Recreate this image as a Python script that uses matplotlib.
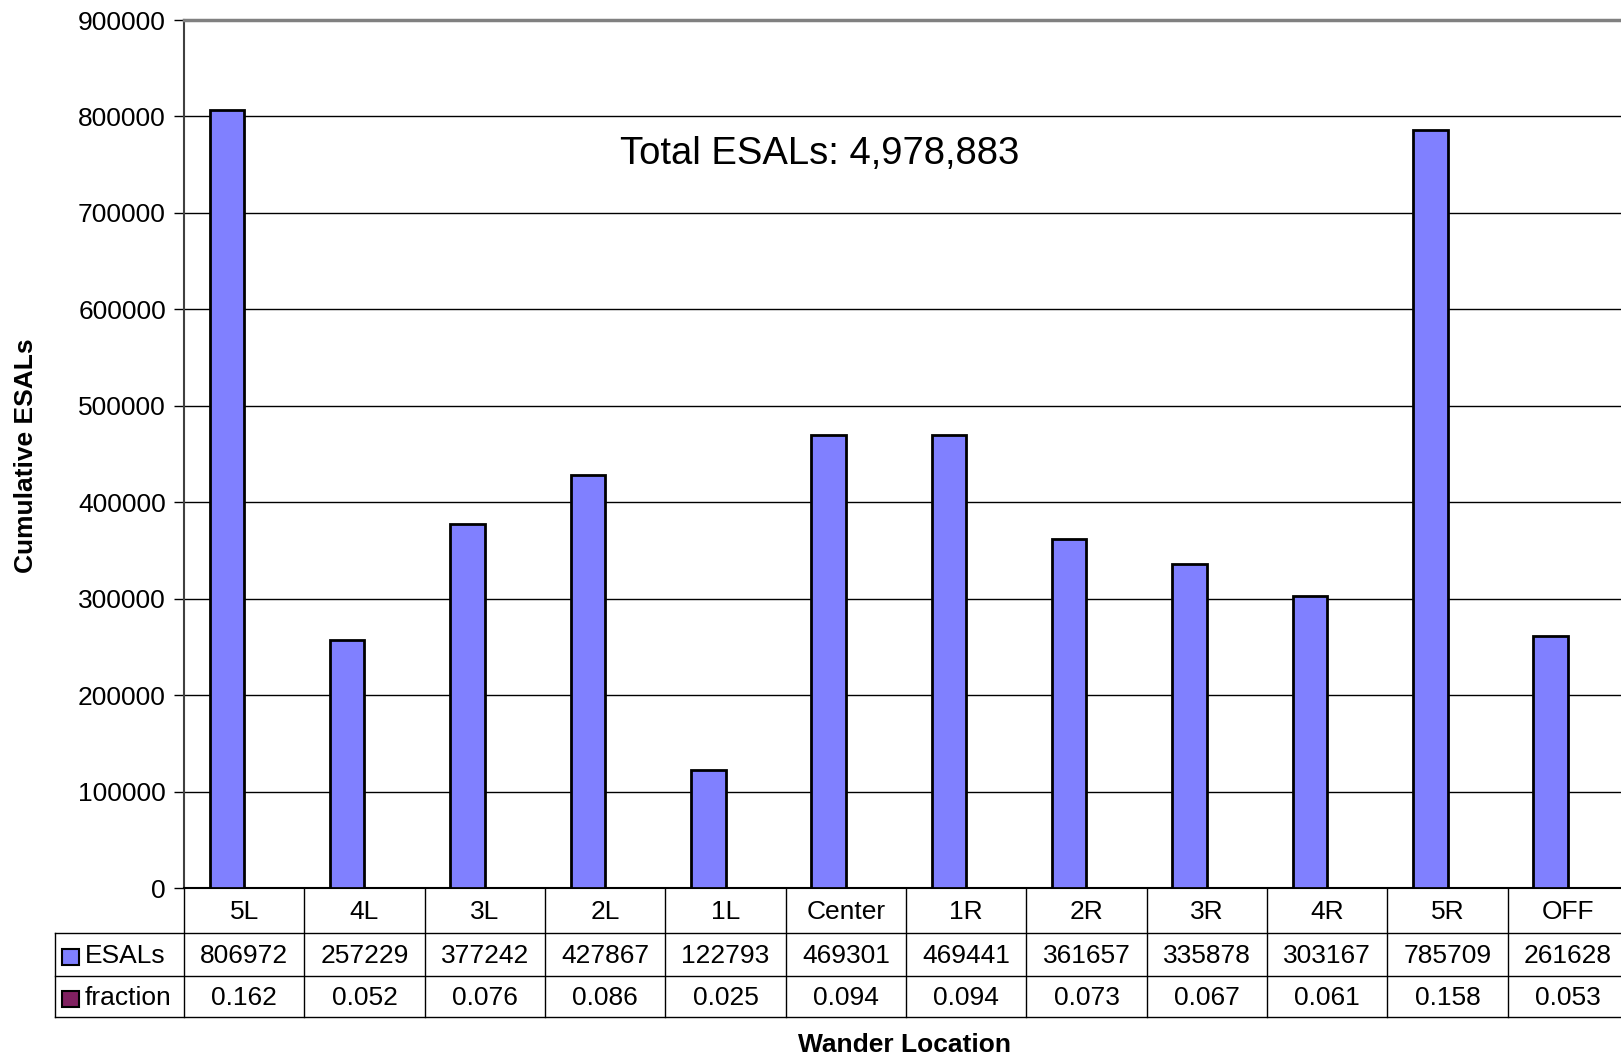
import matplotlib

matplotlib.use("Agg")
import matplotlib.pyplot as plt
from matplotlib.patches import Rectangle
from matplotlib.transforms import blended_transform_factory

plt.rcParams["font.family"] = ["Liberation Sans", "DejaVu Sans"]

locations = ["5L", "4L", "3L", "2L", "1L", "Center", "1R", "2R", "3R", "4R", "5R", "OFF"]
esals = [806972, 257229, 377242, 427867, 122793, 469301, 469441, 361657, 335878,
         303167, 785709, 261628]
fraction = [0.162, 0.052, 0.076, 0.086, 0.025, 0.094, 0.094, 0.073, 0.067, 0.061,
            0.158, 0.053]
y_ticks = list(range(0, 900001, 100000))

ESAL_COLOR = "#8080FF"
FRAC_COLOR = "#802060"
FS = 19

W, H = 1621, 1059
fig = plt.figure(figsize=(W / 100, H / 100), dpi=100)


def fx(px):
    return px / W


def fy(py):
    return 1 - py / H


# plot area runs slightly past the right edge, as in the original export
ax_left, ax_right, ax_top, ax_bot = 184, 1628, 20, 888
ax = fig.add_axes([fx(ax_left), fy(ax_bot), fx(ax_right - ax_left), fy(ax_top) - fy(ax_bot)])

n = len(locations)
xs = list(range(n))
bw = 1 / 3.5  # Excel gap width 150 %
ax.bar([x - bw / 2 for x in xs], esals, width=bw, color=ESAL_COLOR,
       edgecolor="black", linewidth=2, zorder=3)
ax.bar([x + bw / 2 for x in xs], fraction, width=bw, color=FRAC_COLOR,
       edgecolor="black", linewidth=2, zorder=3)

ax.set_xlim(-0.5, n - 0.5)
ax.set_ylim(0, 900000)
ax.set_yticks(y_ticks)
ax.set_yticklabels([str(v) for v in y_ticks], fontsize=FS)
ax.set_xticks([])
ax.tick_params(axis="y", direction="out", length=7, width=1, pad=6)
ax.yaxis.grid(True, color="black", linewidth=1.0, zorder=0)
ax.set_axisbelow(True)
ax.spines["left"].set_color("#404040")
ax.spines["left"].set_linewidth(1.5)
ax.spines["top"].set_color("#808080")
ax.spines["top"].set_linewidth(2.5)
ax.spines["right"].set_visible(False)
ax.spines["bottom"].set_color("black")
ax.spines["bottom"].set_linewidth(1.5)

# data table below the plot
tr = blended_transform_factory(ax.transData, fig.transFigure)
row_y = [888, 933, 976, 1017]
line_kw = dict(color="black", linewidth=1.0, clip_on=False)
for py in row_y[1:]:
    fig.add_artist(plt.Line2D([fx(55), 1], [fy(py), fy(py)], transform=fig.transFigure, **line_kw))
fig.add_artist(plt.Line2D([fx(55), fx(55)], [fy(row_y[1]), fy(row_y[3])],
                          transform=fig.transFigure, **line_kw))
for k in range(n + 1):
    x = k - 0.5
    fig.add_artist(plt.Line2D([x, x], [fy(row_y[0]), fy(row_y[3])], transform=tr, **line_kw))


def row_center(i):
    return fy((row_y[i] + row_y[i + 1]) / 2 - 1)


for i, loc in enumerate(locations):
    fig.text(i, row_center(0), loc, transform=tr, ha="center", va="center_baseline", fontsize=FS)
    fig.text(i, row_center(1), str(esals[i]), transform=tr, ha="center",
             va="center_baseline", fontsize=FS)
    fig.text(i, row_center(2), f"{fraction[i]:.3f}", transform=tr, ha="center",
             va="center_baseline", fontsize=FS)

for i, (name, col) in enumerate([("ESALs", ESAL_COLOR), ("fraction", FRAC_COLOR)]):
    cy = (row_y[i + 1] + row_y[i + 2]) / 2 + 2
    fig.add_artist(Rectangle((fx(62), fy(cy + 8)), fx(17), fy(cy - 8) - fy(cy + 8),
                             transform=fig.transFigure, facecolor=col,
                             edgecolor="black", linewidth=1.5))
    fig.text(fx(85), fy(cy - 3), name, ha="left", va="center_baseline", fontsize=FS)

fig.text(fx(820), fy(150), "Total ESALs: 4,978,883", ha="center", va="center_baseline",
         fontsize=27.5)
fig.text(fx(26), fy(456), "Cumulative ESALs", rotation=90, ha="center", va="center",
         fontsize=FS, fontweight="bold")
fig.text(fx(905), fy(1043), "Wander Location", ha="center", va="center_baseline",
         fontsize=FS, fontweight="bold")

fig.savefig("out.png", dpi=100)
